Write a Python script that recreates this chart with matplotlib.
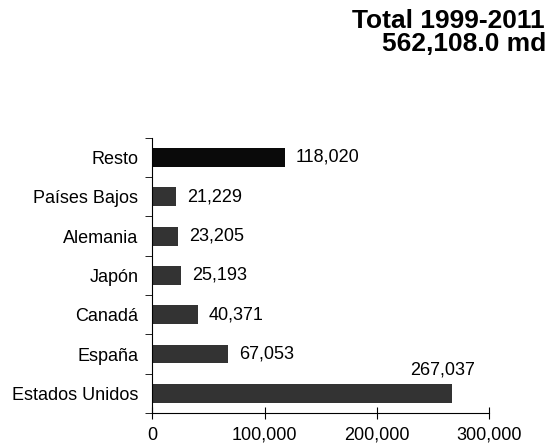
import matplotlib.pyplot as plt
from matplotlib.ticker import FuncFormatter

# Datos (de abajo hacia arriba)
paises = ["Estados Unidos", "España", "Canadá", "Japón", "Alemania", "Países Bajos", "Resto"]
valores = [267037, 67053, 40371, 25193, 23205, 21229, 118020]
colores = ["#333333", "#333333", "#333333", "#333333", "#333333", "#333333", "#0a0a0a"]

plt.rcParams["font.family"] = ["Liberation Sans", "DejaVu Sans"]

fig = plt.figure(figsize=(5.46, 4.46), dpi=100)
ax = fig.add_axes([0.279, 0.074, 0.617, 0.617])

pos = list(range(len(paises)))
ax.barh(pos, valores, height=0.48, color=colores)

# Etiquetas de valores
for i, v in enumerate(valores):
    texto = f"{v:,}"
    if v > 200000:
        ax.annotate(texto, (v, i), xytext=(-7, 11), textcoords="offset points",
                    ha="center", va="bottom", fontsize=13)
    else:
        ax.annotate(texto, (v, i), xytext=(8, 0), textcoords="offset points",
                    ha="left", va="center", fontsize=13)

ax.set_xlim(0, 300000)
ax.set_ylim(-0.5, len(paises) - 0.5)
ax.set_xticks([0, 100000, 200000, 300000])
ax.xaxis.set_major_formatter(FuncFormatter(lambda x, p: f"{int(x):,}"))
ax.set_yticks(pos)
ax.set_yticklabels(paises)
ax.set_yticks([p - 0.5 for p in pos] + [len(paises) - 0.5], minor=True)
ax.tick_params(axis="y", which="major", length=0, pad=10, labelsize=13)
ax.tick_params(axis="y", which="minor", length=5, direction="out")
ax.tick_params(axis="x", direction="inout", length=8, pad=6, labelsize=13)

ax.spines["top"].set_visible(False)
ax.spines["right"].set_visible(False)

# Título (recortado en el borde derecho como en el original)
fig.text(352 / 546, 1 - 28 / 446, "Total 1999-2011", fontsize=19, fontweight="bold",
         ha="left", va="baseline")
fig.text(382 / 546, 1 - 51 / 446, "562,108.0 mdd", fontsize=19, fontweight="bold",
         ha="left", va="baseline")

plt.savefig("out.png", dpi=100)
